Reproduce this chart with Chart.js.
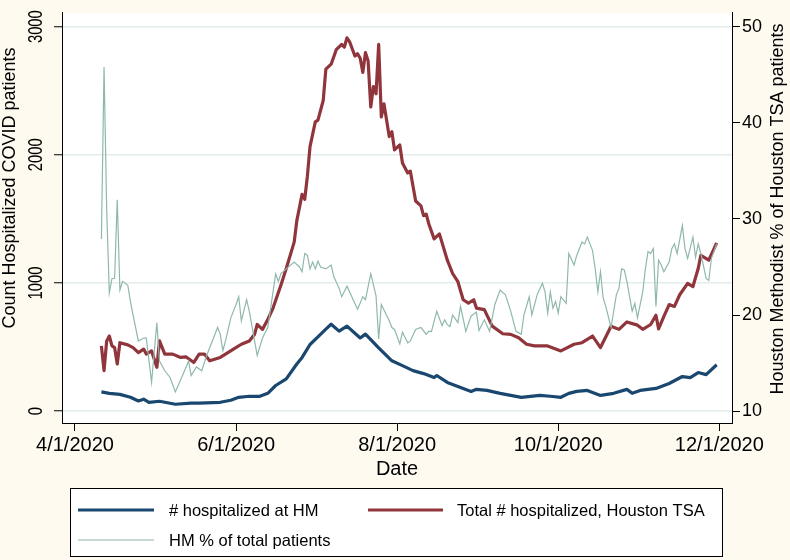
<!DOCTYPE html>
<html><head><meta charset="utf-8">
<script src="https://cdn.jsdelivr.net/npm/chart.js@4.4.1/dist/chart.umd.min.js"></script>
<style>html,body{margin:0;padding:0;background:#fefaef;} #wrap{width:790px;height:560px;}</style>
</head><body><div id="wrap"><canvas id="c" width="790" height="560"></canvas></div>
<script>
// Days are counted from 4/1/2020 (day 0)
const hmDays=[10,13,17,21,24,26,28,32,38,44,47,55,59,62,66,70,73,76,80,84,86,89,92,95,97,100,103,108,110,115,120,124,128,132,136,137,141,145,150,152,156,161,165,169,176,180,184,187,190,194,199,204,209,211,214,217,220,225,230,233,236,239,243];
const hmCount=[150,139,131,108,79,93,69,77,54,62,62,69,85,108,116,116,139,200,252,368,419,520,580,640,678,624,663,571,601,493,393,355,316,293,262,278,224,193,154,170,162,139,123,108,123,116,108,139,154,162,123,139,170,139,162,170,177,216,270,262,301,285,362];

const tsaDays=[10,11,12,13,14,15,16,17,20,22,24,26,27,29,31,32,34,37,40,42,45,47,49,51,55,57,60,63,66,68,69,71,73,75,78,80,83,84,86,87,88,89,91,92,94,95,97,99,101,102,103,104,106,107,108,109,110,111,112,113,114,115,116,117,119,120,121,123,124,126,127,129,131,132,133,134,136,138,141,143,145,147,149,151,152,155,158,162,165,168,171,174,179,184,189,192,196,199,203,206,209,213,215,218,220,221,223,225,227,229,232,234,236,237,240,243];
const tsaCount=[509,316,548,586,509,496,368,534,517,496,457,484,445,470,342,548,445,445,419,424,380,445,445,393,419,445,484,522,548,599,676,638,715,804,985,1113,1319,1486,1691,1653,1833,2064,2257,2270,2424,2668,2707,2823,2861,2840,2913,2882,2771,2789,2753,2643,2797,2732,2373,2532,2476,2861,2296,2398,2142,2180,2038,2077,1936,1859,1872,1640,1602,1525,1537,1460,1344,1383,1178,1074,1010,869,843,869,804,792,663,604,599,573,522,509,509,470,522,534,586,496,663,638,696,671,638,676,748,642,740,831,817,908,997,972,1113,1216,1178,1313];

const pctDays=[10,11,12,13,14,15,16,17,18,20,21,22,24,26,27,29,31,32,34,36,38,41,43,44,46,48,50,52,54,55,56,57,59,61,62,63,65,66,68,69,71,73,75,76,77,78,80,83,85,86,87,88,89,90,91,92,93,95,97,98,100,101,103,105,107,109,110,112,114,115,116,119,120,121,123,124,126,127,129,131,133,134,135,137,139,140,141,142,143,145,146,148,150,152,153,155,157,159,161,163,165,167,169,170,172,173,175,177,178,179,180,181,182,183,184,186,187,189,190,192,193,194,196,197,198,199,200,201,203,205,206,207,208,209,211,212,213,215,216,217,218,219,220,221,222,223,225,226,227,228,230,231,232,234,235,236,237,239,240,241,243];
const pctShare=[27.9,45.8,31.0,22.3,23.8,23.8,32.0,22.6,23.5,23.1,21.4,20.0,17.3,17.6,17.6,13.0,19.2,15.2,14.2,13.5,12.0,13.9,15.2,13.7,14.6,14.2,15.9,17.3,18.7,18.0,16.3,17.3,19.7,21.1,21.9,19.4,21.6,20.4,17.3,15.8,17.6,18.7,22.4,24.3,23.5,24.3,24.8,25.5,25.0,24.5,26.4,26.2,24.8,25.5,24.8,25.6,25.0,24.8,25.2,24.0,22.8,21.9,23.0,21.8,20.6,21.9,21.6,24.3,22.0,17.5,21.1,19.4,18.7,18.5,17.0,18.2,17.1,17.3,18.5,18.7,18.0,18.3,18.3,20.4,18.9,19.5,19.0,18.8,20.0,19.2,20.9,18.3,19.9,20.3,18.4,19.5,18.3,21.1,22.6,22.1,20.4,18.3,18.0,20.0,21.9,20.0,22.1,23.3,22.4,20.2,22.4,20.7,21.4,20.2,21.9,21.2,26.4,25.2,26.2,27.6,27.4,28.1,26.7,24.8,22.4,24.5,21.8,20.9,18.7,22.1,22.8,24.8,24.7,23.5,20.4,21.2,19.7,22.4,24.8,26.6,26.4,26.9,20.9,25.7,25.2,24.5,25.5,26.9,27.4,26.4,29.3,26.9,25.9,28.1,26.0,27.4,26.4,23.8,23.6,25.9,27.4];

const xTickDays=[0,61,122,183,244];
const xTickLabels=['4/1/2020','6/1/2020','8/1/2020','10/1/2020','12/1/2020'];
const leftTicks=[0,1000,2000,3000];
const rightTicks=[10,20,30,40,50];
const seriesLabels=['# hospitalized at HM','Total # hospitalized, Houston TSA','HM % of total patients'];
const leftTitle='Count Hospitalized COVID patients';
const rightTitle='Houston Methodist % of Houston TSA patients';
const xTitle='Date';

const FONT='"Liberation Sans", Arial, Helvetica, sans-serif';
const CREAM='#fefaef';

const pts=(xs,ys)=>xs.map((d,i)=>({x:d,y:ys[i]}));

const decor={
  id:'decor',
  beforeDraw(chart){
    const {ctx,chartArea:a}=chart;
    ctx.save();
    ctx.fillStyle=CREAM;ctx.fillRect(0,0,chart.width,chart.height);
    ctx.fillStyle='#ffffff';ctx.fillRect(a.left,a.top,a.right-a.left,a.bottom-a.top);
    ctx.restore();
  },
  afterDraw(chart){
    const {ctx,chartArea:a}=chart;
    const ys=chart.scales.y;
    ctx.save();
    ctx.fillStyle='#000';
    // left tick labels (rotated)
    leftTicks.forEach(v=>{
      const y=ys.getPixelForValue(v);
      ctx.save();
      ctx.translate(36,y);ctx.rotate(-Math.PI/2);ctx.scale(0.74,1);
      ctx.font='20px '+FONT;ctx.textAlign='center';ctx.textBaseline='middle';
      ctx.fillText(String(v),0,0);
      ctx.restore();
    });
    // left title
    ctx.save();ctx.translate(10,188);ctx.rotate(-Math.PI/2);
    ctx.font='18px '+FONT;ctx.textAlign='center';ctx.textBaseline='middle';
    ctx.fillText(leftTitle,0,0);ctx.restore();
    // right title
    ctx.save();ctx.translate(778,209);ctx.rotate(-Math.PI/2);
    ctx.font='18px '+FONT;ctx.textAlign='center';ctx.textBaseline='middle';
    ctx.fillText(rightTitle,0,0);ctx.restore();
    // x title
    ctx.font='20px '+FONT;ctx.textAlign='center';ctx.textBaseline='alphabetic';
    ctx.fillText(xTitle,(a.left+a.right)/2,475);
    // legend
    ctx.fillStyle='#ffffff';ctx.fillRect(70,488,652,68);
    ctx.strokeStyle='#000';ctx.lineWidth=1;ctx.strokeRect(70.5,488.5,652,68);
    const ds=chart.data.datasets;
    const items=[[ds[0],78,154,169,510],[ds[1],368,443,457,510],[ds[2],78,154,169,540]];
    ctx.font='16.5px '+FONT;ctx.textAlign='left';ctx.textBaseline='middle';
    items.forEach(([d,x1,x2,tx,y])=>{
      ctx.strokeStyle=d.borderColor;ctx.lineWidth=d.borderWidth;
      ctx.beginPath();ctx.moveTo(x1,y);ctx.lineTo(x2,y);ctx.stroke();
      ctx.fillStyle='#000';ctx.fillText(d.label,tx,y+1);
    });
    ctx.restore();
  }
};

new Chart(document.getElementById('c'),{
  type:'line',
  data:{datasets:[
    {label:seriesLabels[0],data:pts(hmDays,hmCount),borderColor:'#1a476f',borderWidth:3.2,pointRadius:0,yAxisID:'y',order:3,borderJoinStyle:'round'},
    {label:seriesLabels[1],data:pts(tsaDays,tsaCount),borderColor:'#90353b',borderWidth:3.2,pointRadius:0,yAxisID:'y',order:2,borderJoinStyle:'round'},
    {label:seriesLabels[2],data:pts(pctDays,pctShare),borderColor:'#8fb8ac',borderWidth:1.2,pointRadius:0,yAxisID:'y2',order:1}
  ]},
  options:{
    responsive:false,animation:false,
    layout:{padding:{top:8,left:0,right:0,bottom:0}},
    plugins:{legend:{display:false},tooltip:{enabled:false}},
    scales:{
      x:{type:'linear',min:-4.92,max:248.8,
        afterBuildTicks:s=>{s.ticks=xTickDays.map(v=>({value:v}));},
        ticks:{callback:v=>xTickLabels[xTickDays.indexOf(v)],font:{family:FONT,size:20},color:'#000',padding:2,maxRotation:0,autoSkip:false},
        grid:{drawOnChartArea:false,drawTicks:true,tickLength:8,tickColor:'#000'},
        border:{display:true,color:'#000',width:1},
        afterFit:s=>{s.height=137;}
      },
      y:{position:'left',min:-92.5,max:3108,
        afterBuildTicks:s=>{s.ticks=leftTicks.map(v=>({value:v}));},
        ticks:{color:'rgba(0,0,0,0)',font:{family:FONT,size:12}},
        grid:{color:'#e2eded',lineWidth:1.5,tickColor:'#000',tickLength:8,tickWidth:1},
        border:{display:true,color:'#000',width:1},
        afterFit:s=>{s.width=62;}
      },
      y2:{position:'right',min:8.766,max:51.44,
        afterBuildTicks:s=>{s.ticks=rightTicks.map(v=>({value:v}));},
        ticks:{font:{family:FONT,size:18},color:'#000',padding:2},
        grid:{drawOnChartArea:false,tickColor:'#000',tickLength:8},
        border:{display:true,color:'#000',width:1},
        afterFit:s=>{s.width=58;}
      }
    }
  },
  plugins:[decor]
});
</script></body></html>
